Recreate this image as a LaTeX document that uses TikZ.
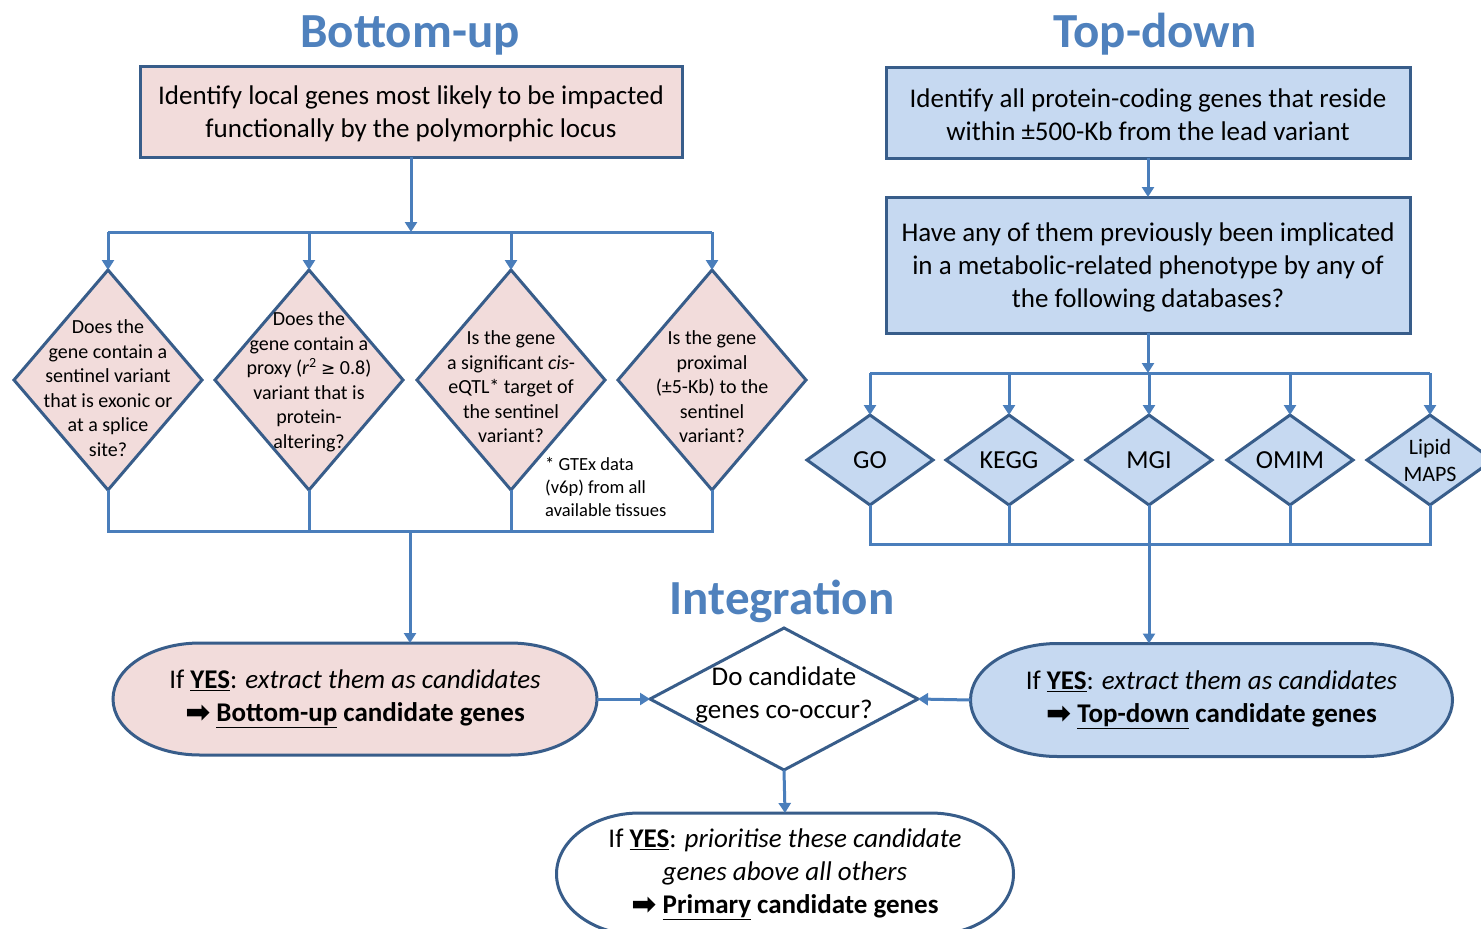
\documentclass[tikz,border=0pt]{standalone}
\usepackage{fontspec}
\setmainfont{Carlito}
\newfontfamily\djv{DejaVu Sans}
\usetikzlibrary{shapes.geometric,arrows.meta}
\definecolor{bord}{HTML}{385D8A}
\definecolor{connc}{HTML}{4A7EBB}
\definecolor{pinkf}{HTML}{F2DCDB}
\definecolor{bluef}{HTML}{C6D9F1}
\definecolor{ttl}{HTML}{4F81BD}
\pgfdeclarelayer{bg}
\pgfsetlayers{bg,main}
\newcommand\termpath[4]{%
\begin{pgfonlayer}{bg}
\draw[draw=bord,line width=3pt,fill=#4] ([xshift=#2]#1.north west) -- ([xshift=-#2]#1.north east) arc[start angle=90,end angle=-90,x radius=#2,y radius=#3] -- ([xshift=#2]#1.south west) arc[start angle=270,end angle=90,x radius=#2,y radius=#3] -- cycle;
\end{pgfonlayer}}
\newcommand\arrowglyph{\raisebox{-1pt}{\djv\bfseries\fontsize{30}{33}\selectfont ➡}}
\begin{document}
\begin{tikzpicture}[x=1pt,y=-1pt,
 font=\fontsize{27}{33}\selectfont,
 border/.style={draw=bord,line width=3pt},
 box/.style={border,rectangle,align=center,inner sep=0pt,outer sep=0pt},
 qdia/.style={border,diamond,inner sep=0pt,outer sep=0pt,fill=pinkf,minimum width=188pt,minimum height=220pt},
 ddia/.style={border,diamond,inner sep=0pt,outer sep=0pt,fill=bluef,minimum width=126pt,minimum height=90pt},
 dtxt/.style={align=center,inner sep=0pt,font=\fontsize{26}{30}\selectfont},
 qtxt/.style={align=center,inner sep=0pt,font=\fontsize{20}{24.5}\selectfont},
 conn/.style={draw=connc,line width=3pt},
 arr/.style={conn,-{Triangle[length=10pt,width=12pt]}},
 title/.style={text=ttl,font=\fontsize{49}{55}\selectfont\bfseries,anchor=base,inner sep=0pt},
 term/.style={rectangle,align=center,inner sep=0pt,outer sep=0pt}
]
\clip (0,0) rectangle (1481,929);
\begin{pgfonlayer}{bg}
\fill[white] (0,0) rectangle (1481,929);
\end{pgfonlayer}

% titles
\node[title] (tBU) at (410,47) {Bottom-up};
\node[title] (tTD) at (1155,47) {Top-down};
\node[title] (tIN) at (782,614) {Integration};

% bottom-up
\node[box,fill=pinkf,minimum width=542pt,minimum height=91pt] (b1) at (411,111.5)
 {\rule{0pt}{24pt}Identify local genes most likely to be impacted\\functionally by the polymorphic locus};
\node[qdia] (d1) at (108,380) {};
\node[qdia] (d2) at (309,380) {};
\node[qdia] (d3) at (511,380) {};
\node[qdia] (d4) at (712,380) {};
\node[qtxt] (q1) at (108,388) {Does the\\gene contain a\\sentinel variant\\that is exonic or\\at a splice\\site?};
\node[qtxt] (q2) at (309,382) {Does the\\gene contain a\\proxy ({\itshape r}\textsuperscript{2} {\djv\fontsize{17}{24.5}\selectfont ≥} 0.8)\\variant that is\\protein-\\altering?};
\node[qtxt] (q3) at (511,387) {Is the gene\\a significant \textit{cis}-\\eQTL* target of\\the sentinel\\variant?};
\node[qtxt] (q4) at (712,387) {Is the gene\\proximal\\(±5-Kb) to the\\sentinel\\variant?};
\node[align=left,inner sep=0pt,anchor=west,font=\fontsize{18.5}{23}\selectfont] (note) at (545,487)
 {* GTEx data\\(v6p) from all\\available tissues};

\coordinate (hBU) at (411,232);
\coordinate (lBU) at (410,531);
\draw[arr] (b1.south) -- (hBU);
\draw[conn] (d1.north |- hBU) -- (d4.north |- hBU);
\foreach \d in {d1,d2,d3,d4} {\draw[arr] (\d.north |- hBU) -- (\d.north);}
\draw[conn] (d1.south) -- (d1.south |- lBU) -- (d4.south |- lBU) -- (d4.south);
\draw[conn] (d2.south) -- (d2.south |- lBU);
\draw[conn] (d3.south) -- (d3.south |- lBU);

\node[term,minimum width=484pt,minimum height=112pt] (bu) at (355,699)
 {If \underline{\textbf{YES}}: \textit{extract them as candidates}\\\arrowglyph~\textbf{\underline{Bottom-up} candidate genes}};
\termpath{bu}{87pt}{56pt}{pinkf}
\draw[arr] (lBU) -- (lBU |- bu.north);

% top-down
\node[box,fill=bluef,minimum width=524pt,minimum height=91pt] (t1) at (1148,112.5)
 {\rule{0pt}{24pt}Identify all protein-coding genes that reside\\within ±500-Kb from the lead variant};
\node[box,fill=bluef,minimum width=524pt,minimum height=136pt] (t2) at (1148,265)
 {\rule{0pt}{24pt}Have any of them previously been implicated\\in a metabolic-related phenotype by any of\\the following databases?};
\draw[arr] (t1.south) -- (t2.north);

\node[ddia] (go) at (870,460) {};
\node[ddia] (kegg) at (1009,460) {};
\node[ddia] (mgi) at (1149,460) {};
\node[ddia] (omim) at (1290,460) {};
\node[ddia] (lip) at (1430,460) {};
\node[dtxt] (goT) at (go) {GO};
\node[dtxt] (keggT) at (kegg) {KEGG};
\node[dtxt] (mgiT) at (mgi) {MGI};
\node[dtxt] (omimT) at (omim) {OMIM};
\node[dtxt,font=\fontsize{22}{27}\selectfont] (lipT) at (1430,460) {Lipid\\MAPS};

\coordinate (hTD) at (1149,373);
\coordinate (lTD) at (1149,544);
\draw[arr] (t2.south) -- (t2.south |- hTD);
\draw[conn] (go.north |- hTD) -- (lip.north |- hTD);
\foreach \d in {go,kegg,mgi,omim,lip} {\draw[arr] (\d.north |- hTD) -- (\d.north);}
\draw[conn] (go.south) -- (go.south |- lTD) -- (lip.south |- lTD) -- (lip.south);
\foreach \d in {kegg,mgi,omim} {\draw[conn] (\d.south) -- (\d.south |- lTD);}

\node[term,minimum width=482pt,minimum height=113pt] (td) at (1211.5,700)
 {If \underline{\textbf{YES}}: \textit{extract them as candidates}\\\arrowglyph~\textbf{\underline{Top-down} candidate genes}};
\termpath{td}{87pt}{56.5pt}{bluef}
\draw[arr] (lTD) -- (lTD |- td.north);

% integration
\node[border,diamond,fill=white,inner sep=0pt,outer sep=0pt,minimum width=268pt,minimum height=142pt] (ig) at (784,699) {};
\node[align=center,inner sep=0pt] (igT) at (784,694.5) {Do candidate\\genes co-occur?};
\draw[arr] (bu.east) -- (ig.west);
\draw[arr] (td.west) -- (ig.east);

\node[term,minimum width=457pt,minimum height=122pt] (pr) at (785,874)
 {If \underline{\textbf{YES}}: \textit{prioritise these candidate}\\\textit{genes above all others}\\\arrowglyph~\textbf{\underline{Primary} candidate genes}};
\termpath{pr}{83pt}{61pt}{white}
\draw[arr] (ig.south) -- (pr.north);
\end{tikzpicture}
\end{document}
